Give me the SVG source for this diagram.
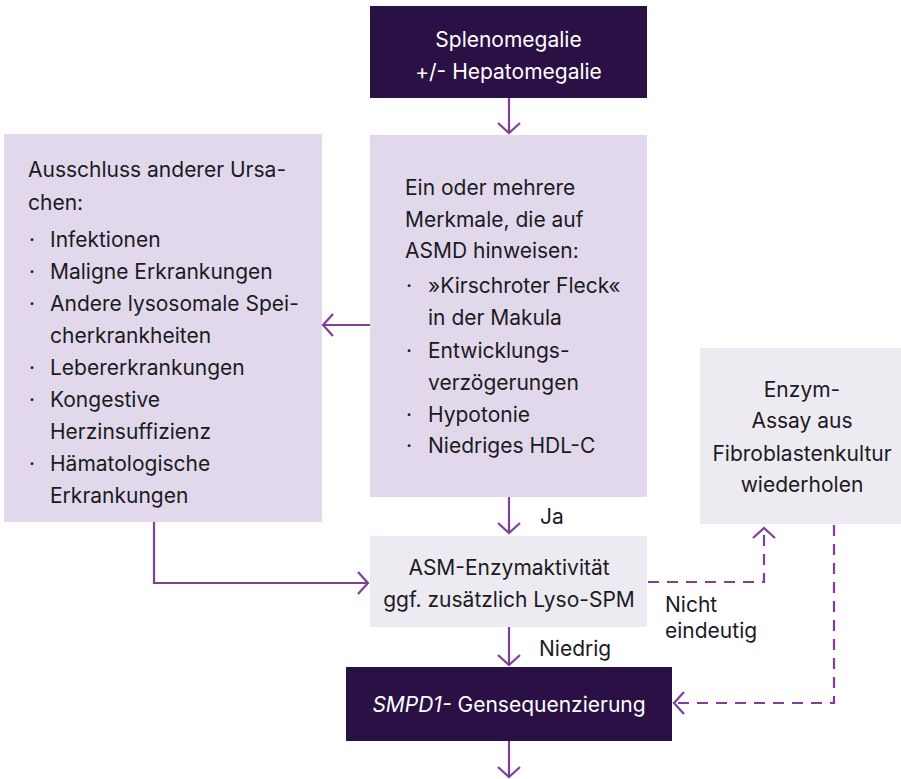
<svg xmlns="http://www.w3.org/2000/svg" width="901" height="779" viewBox="0 0 901 779">
<defs>
<style>
text{font-family:Inter,"Noto Sans","Liberation Sans",sans-serif;font-size:21px;fill:#1b1b1f}
.w{fill:#ffffff}
.c{text-anchor:middle}
.dark{fill:#2a1045}
.lav{fill:#e1d9eb}
.lt{fill:#edeaf2}
.ln{fill:none;stroke:#7d3f98;stroke-width:2.2}
.ds{stroke-dasharray:11 8}
</style>
<marker id="ah" viewBox="-12 -13 14 26" markerWidth="14" markerHeight="26" refX="0" refY="0" orient="auto" markerUnits="userSpaceOnUse">
<path d="M-10,-11 L0,0 L-10,11" fill="none" stroke="#7d3f98" stroke-width="2.2"/>
</marker>
</defs>
<g id="n-splenomegalie">
<rect class="dark" x="370" y="6" width="277" height="92"/>
<text class="w c" x="508.5" y="47">Splenomegalie</text>
<text class="w c" x="508.5" y="79">+/- Hepatomegalie</text>
</g>
<g id="n-ausschluss">
<rect class="lav" x="4" y="134" width="318" height="388"/>
<text x="28" y="177">Ausschluss anderer Ursa-</text>
<text x="28" y="210">chen:</text>
<text x="29" y="247">·</text><text x="50" y="247">Infektionen</text>
<text x="29" y="279">·</text><text x="50" y="279">Maligne Erkrankungen</text>
<text x="29" y="311">·</text><text x="50" y="311">Andere lysosomale Spei-</text>
<text x="50" y="343">cherkrankheiten</text>
<text x="29" y="375">·</text><text x="50" y="375">Lebererkrankungen</text>
<text x="29" y="407">·</text><text x="50" y="407">Kongestive</text>
<text x="50" y="439">Herzinsuffizienz</text>
<text x="29" y="471">·</text><text x="50" y="471">Hämatologische</text>
<text x="50" y="503">Erkrankungen</text>
</g>
<g id="n-merkmale">
<rect class="lav" x="370" y="135" width="277" height="362"/>
<text x="405" y="195">Ein oder mehrere</text>
<text x="405" y="227">Merkmale, die auf</text>
<text x="405" y="258">ASMD hinweisen:</text>
<text x="406" y="293">·</text><text x="428" y="293">»Kirschroter Fleck«</text>
<text x="428" y="325">in der Makula</text>
<text x="406" y="358">·</text><text x="428" y="358">Entwicklungs-</text>
<text x="428" y="390">verzögerungen</text>
<text x="406" y="422">·</text><text x="428" y="422">Hypotonie</text>
<text x="406" y="453">·</text><text x="428" y="453">Niedriges HDL-C</text>
</g>
<g id="n-enzymassay">
<rect class="lt" x="700" y="348" width="201" height="176"/>
<text class="c" x="802" y="397">Enzym-</text>
<text class="c" x="802" y="428">Assay aus</text>
<text class="c" x="802" y="461">Fibroblastenkultur</text>
<text class="c" x="802" y="492">wiederholen</text>
</g>
<g id="n-asm">
<rect class="lt" x="370" y="536" width="277" height="91"/>
<text class="c" x="509" y="575">ASM-Enzymaktivität</text>
<text class="c" x="509" y="607">ggf. zusätzlich Lyso-SPM</text>
</g>
<g id="n-smpd1">
<rect class="dark" x="346" y="667" width="326" height="74"/>
<text class="w c" x="509" y="712"><tspan font-style="italic">SMPD1-</tspan> Gensequenzierung</text>
</g>
<g id="connectors">
<line class="ln" x1="509" y1="98" x2="509" y2="133" marker-end="url(#ah)"/>
<line class="ln" x1="370" y1="325" x2="323" y2="325" marker-end="url(#ah)"/>
<line class="ln" x1="509" y1="497" x2="509" y2="533" marker-end="url(#ah)"/>
<polyline class="ln" points="154,522 154,583 368,583" marker-end="url(#ah)"/>
<line class="ln" x1="509" y1="627" x2="509" y2="665" marker-end="url(#ah)"/>
<line class="ln" x1="509" y1="741" x2="509" y2="777" marker-end="url(#ah)"/>
<polyline class="ln ds" points="648,582 764,582 764,528" marker-end="url(#ah)"/>
<polyline class="ln ds" points="834,525 834,703 674,703" marker-end="url(#ah)"/>
<text x="540" y="524">Ja</text>
<text x="539" y="656">Niedrig</text>
<text x="665" y="612">Nicht</text>
<text x="665" y="638">eindeutig</text>
</g>
</svg>
